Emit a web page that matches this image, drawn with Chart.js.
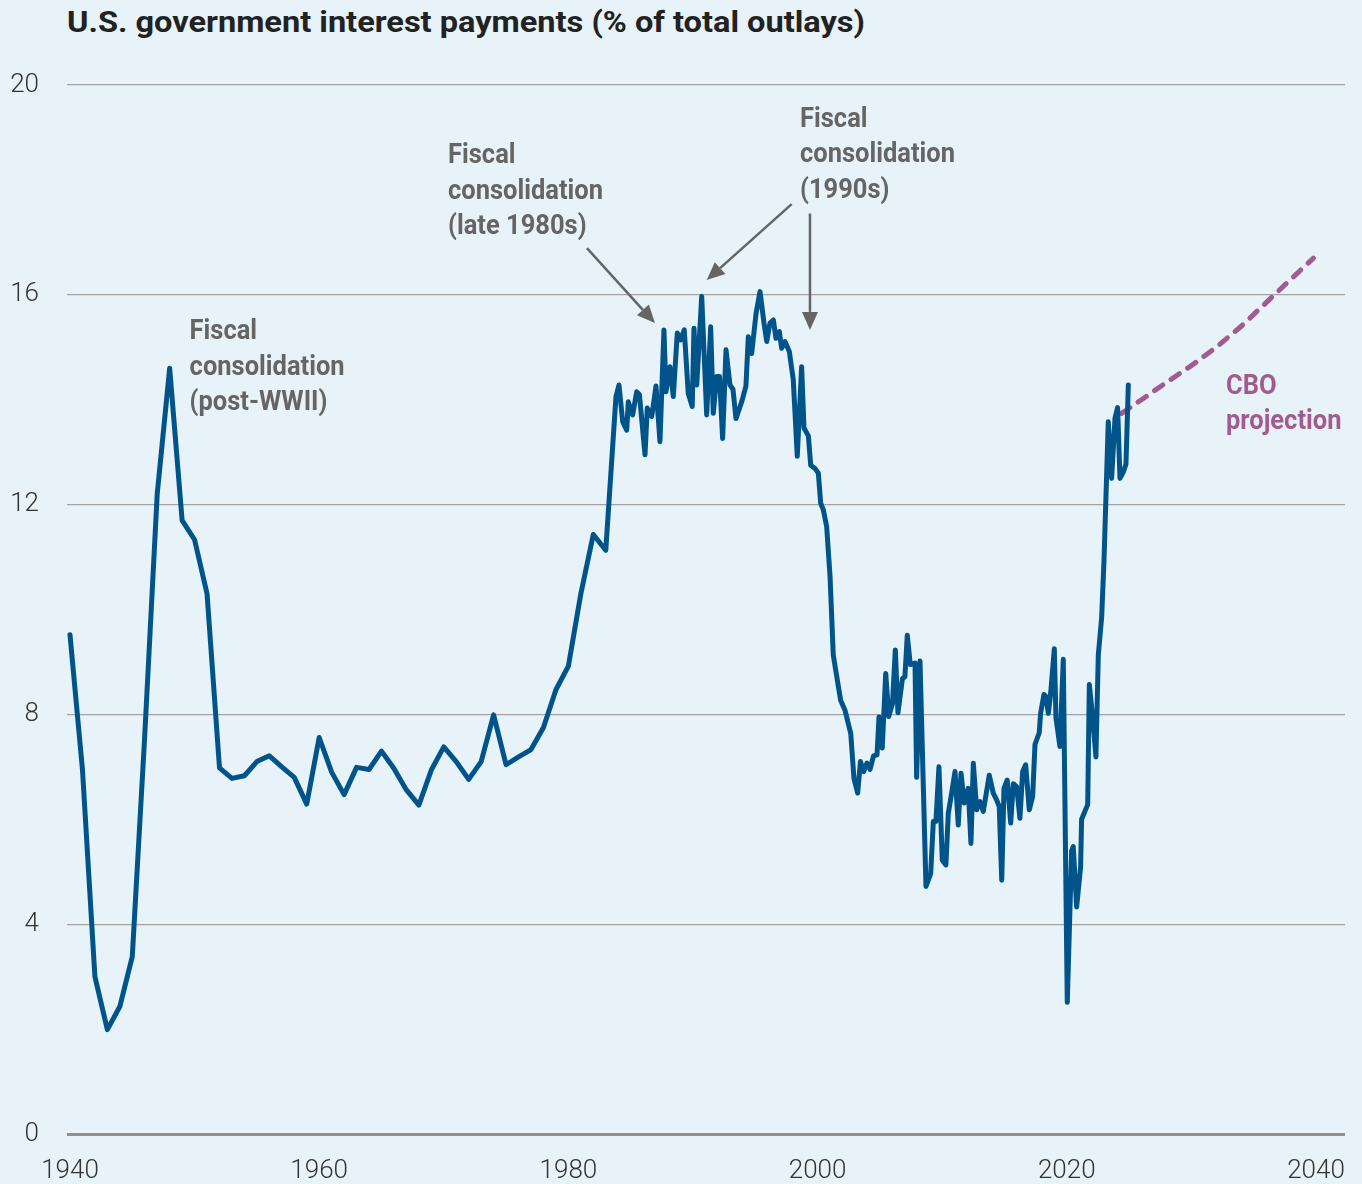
<!DOCTYPE html>
<html>
<head>
<meta charset="utf-8">
<script src="https://cdn.jsdelivr.net/npm/chart.js@4.4.1/dist/chart.umd.min.js"></script>
<style>
  html, body { margin: 0; padding: 0; background: #e8f2f9; }
  #wrap { position: relative; width: 1362px; height: 1184px; }
  #title {
    position: absolute; left: 67px; top: 4px; margin: 0;
    font: bold 30px Roboto, sans-serif; color: #222;
    white-space: nowrap; transform-origin: left top;
  }
  canvas { position: absolute; left: 0; top: 0; }
</style>
</head>
<body>
<div id="wrap">
  <h1 id="title">U.S. government interest payments (% of total outlays)</h1>
  <canvas id="chart" width="1362" height="1184"></canvas>
</div>
<script>
/* ================== DATA ================== */
const annualYears = [1940, 1941, 1942, 1943, 1944, 1945, 1946, 1947, 1948, 1949,
  1950, 1951, 1952, 1953, 1954, 1955, 1956, 1957, 1958, 1959,
  1960, 1961, 1962, 1963, 1964, 1965, 1966, 1967, 1968, 1969,
  1970, 1971, 1972, 1973, 1974, 1975, 1976, 1977, 1978, 1979,
  1980, 1981, 1982, 1983];
const annualShare = [9.52, 6.95, 3.0, 1.99, 2.43, 3.38, 7.6, 12.2, 14.6, 11.7,
  11.33, 10.3, 6.98, 6.78, 6.83, 7.1, 7.21, 7.0, 6.8, 6.29,
  7.56, 6.9, 6.47, 6.99, 6.95, 7.3, 6.97, 6.56, 6.27, 6.94,
  7.38, 7.1, 6.76, 7.1, 7.99, 7.04, 7.19, 7.33, 7.75, 8.47,
  8.92, 10.3, 11.43, 11.13];

// quarterly readings from 1984 on
const quarterYears = [1983.82, 1984.06, 1984.36, 1984.68, 1984.81, 1985.16, 1985.48, 1985.7, 1986.15, 1986.33,
  1986.69, 1987.03, 1987.35, 1987.67, 1987.83, 1988.15, 1988.42, 1988.74, 1989.01, 1989.3,
  1989.62, 1989.94, 1990.08, 1990.3, 1990.7, 1991.1, 1991.42, 1991.63, 1991.9, 1992.13,
  1992.38, 1992.65, 1992.97, 1993.21, 1993.45, 1993.91, 1994.25, 1994.44, 1994.71, 1995.06,
  1995.38, 1995.7, 1995.92, 1996.18, 1996.45, 1996.66, 1996.93, 1997.12, 1997.38, 1997.73,
  1998.05, 1998.37, 1998.72, 1998.91, 1999.26, 1999.45, 1999.79, 2000.06, 2000.25, 2000.46,
  2000.73, 2001.0, 2001.26, 2001.85, 2002.2, 2002.66, 2002.92, 2003.22, 2003.44, 2003.7,
  2003.96, 2004.21, 2004.49, 2004.77, 2004.93, 2005.19, 2005.47, 2005.71, 2006.01, 2006.24,
  2006.45, 2006.81, 2007.01, 2007.2, 2007.44, 2007.82, 2007.95, 2008.22, 2008.7, 2009.08,
  2009.29, 2009.5, 2009.74, 2010.01, 2010.3, 2010.49, 2010.76, 2011.03, 2011.29, 2011.51,
  2011.77, 2012.09, 2012.31, 2012.5, 2012.77, 2013.03, 2013.3, 2013.78, 2014.1, 2014.37,
  2014.58, 2014.78, 2014.96, 2015.22, 2015.5, 2015.71, 2015.98, 2016.24, 2016.46, 2016.7,
  2016.99, 2017.26, 2017.45, 2017.79, 2017.9, 2018.17, 2018.33, 2018.52, 2018.71, 2019.0,
  2019.13, 2019.45, 2019.72, 2020.04, 2020.39, 2020.52, 2020.79, 2021.11, 2021.19, 2021.68,
  2021.81, 2022.08, 2022.34, 2022.53, 2022.8, 2022.99, 2023.33, 2023.6, 2023.87, 2024.08,
  2024.27, 2024.54, 2024.75, 2024.94];
const quarterShare = [14.06, 14.28, 13.58, 13.42, 13.96, 13.71, 14.15, 14.1, 12.95, 13.84,
  13.68, 14.26, 13.2, 15.33, 14.15, 14.63, 14.06, 15.27, 15.14, 15.33,
  14.12, 13.87, 15.36, 14.28, 15.97, 13.71, 15.39, 13.74, 14.44, 14.44,
  13.26, 14.95, 14.28, 14.2, 13.64, 13.96, 14.26, 15.2, 14.88, 15.64,
  16.06, 15.46, 15.11, 15.46, 15.52, 15.17, 15.3, 14.98, 15.11, 14.92,
  14.38, 12.92, 14.63, 13.46, 13.31, 12.75, 12.69, 12.6, 12.03, 11.9,
  11.58, 10.63, 9.13, 8.27, 8.08, 7.64, 6.78, 6.5, 7.1, 6.91,
  7.07, 6.95, 7.21, 7.23, 7.95, 7.36, 8.78, 7.96, 8.2, 9.23,
  8.03, 8.68, 8.72, 9.51, 8.95, 8.98, 6.8, 9.02, 4.72, 4.97,
  5.96, 5.96, 7.0, 5.22, 5.13, 6.11, 6.5, 6.91, 5.89, 6.88,
  6.31, 6.59, 5.54, 7.07, 6.18, 6.34, 6.15, 6.84, 6.5, 6.37,
  6.24, 4.84, 6.59, 6.75, 5.93, 6.68, 6.62, 6.02, 6.91, 7.04,
  6.18, 6.43, 7.43, 7.65, 8.02, 8.38, 8.34, 8.02, 8.41, 9.25,
  7.94, 7.39, 9.05, 2.51, 5.4, 5.48, 4.33, 5.09, 6.0, 6.28,
  8.57, 7.94, 7.19, 9.13, 9.85, 10.95, 13.58, 12.5, 13.65, 13.85,
  12.5, 12.62, 12.77, 14.28];

const cboYears = [2024.4, 2026, 2028, 2030, 2032, 2034, 2036, 2038, 2039.8];
const cboShare = [13.74, 14.0, 14.33, 14.65, 15.0, 15.4, 15.85, 16.3, 16.7];

const xTicks = [1940, 1960, 1980, 2000, 2020, 2040];
const yTicks = [0, 4, 8, 12, 16, 20];

// annotation texts, anchored at (year, value) of the first line's baseline
const notes = [
  { lines: ["Fiscal", "consolidation", "(post-WWII)"], year: 1949.6, value: 15.15, purple: false },
  { lines: ["Fiscal", "consolidation", "(late 1980s)"], year: 1970.34, value: 18.51, purple: false },
  { lines: ["Fiscal", "consolidation", "(1990s)"], year: 1998.59, value: 19.2, purple: false },
  { lines: ["CBO", "projection"], year: 2032.78, value: 14.11, purple: true }
];
const arrows = [
  { from: [1981.49, 16.89], to: [1986.95, 15.46] },
  { from: [1997.92, 17.73], to: [1991.1, 16.28] },
  { from: [1999.39, 17.55], to: [1999.39, 15.33] }
];

/* ================== STYLE ================== */
const BLUE = "#00548a";
const PURPLE = "#a25b91";
const GRAY = "#656565";
const NOTE_FONT = "bold 28px Roboto, sans-serif";
const NOTE_LINE = 35.5;

function toPoints(xs, ys) {
  return xs.map((x, i) => ({ x, y: ys[i] }));
}

/* ================== HELPERS ================== */
function squeeze(ctx, font, sample, target) {
  ctx.save();
  ctx.font = font;
  const w = ctx.measureText(sample).width;
  ctx.restore();
  return w ? target / w : 1;
}

function drawArrow(ctx, x1, y1, x2, y2) {
  const ang = Math.atan2(y2 - y1, x2 - x1);
  const len = 18, half = 8;
  const bx = x2 - len * Math.cos(ang), by = y2 - len * Math.sin(ang);
  ctx.beginPath();
  ctx.moveTo(x1, y1);
  ctx.lineTo(bx, by);
  ctx.stroke();
  ctx.beginPath();
  ctx.moveTo(x2, y2);
  ctx.lineTo(bx + half * Math.sin(ang), by - half * Math.cos(ang));
  ctx.lineTo(bx - half * Math.sin(ang), by + half * Math.cos(ang));
  ctx.closePath();
  ctx.fill();
}

const notesPlugin = {
  id: "notes",
  afterDatasetsDraw(chart) {
    const { ctx, scales } = chart;
    const sx = squeeze(ctx, NOTE_FONT, "consolidation", 155);

    ctx.save();
    ctx.strokeStyle = GRAY;
    ctx.fillStyle = GRAY;
    ctx.lineWidth = 2.5;
    arrows.forEach(a => {
      drawArrow(ctx,
        scales.x.getPixelForValue(a.from[0]), scales.y.getPixelForValue(a.from[1]),
        scales.x.getPixelForValue(a.to[0]), scales.y.getPixelForValue(a.to[1]));
    });

    ctx.font = NOTE_FONT;
    ctx.textBaseline = "alphabetic";
    ctx.textAlign = "left";
    notes.forEach(n => {
      const px = scales.x.getPixelForValue(n.year);
      const py = scales.y.getPixelForValue(n.value);
      ctx.fillStyle = n.purple ? PURPLE : GRAY;
      n.lines.forEach((t, i) => {
        ctx.save();
        ctx.translate(px, py + i * NOTE_LINE);
        ctx.scale(sx, 1);
        ctx.fillText(t, 0, 0);
        ctx.restore();
      });
    });
    ctx.restore();
  }
};

/* ================== CHART ================== */
const titleEl = document.getElementById("title");
const probe = document.createElement("canvas").getContext("2d");
titleEl.style.transform = `scaleX(${squeeze(probe, "bold 30px Roboto, sans-serif", titleEl.textContent, 798)})`;

new Chart(document.getElementById("chart"), {
  type: "line",
  data: {
    datasets: [
      {
        data: toPoints(annualYears.concat(quarterYears), annualShare.concat(quarterShare)),
        borderColor: BLUE,
        borderWidth: 5,
        borderJoinStyle: "round",
        borderCapStyle: "round",
        pointRadius: 0,
        tension: 0
      },
      {
        data: toPoints(cboYears, cboShare),
        borderColor: PURPLE,
        borderWidth: 5,
        borderDash: [10, 10],
        borderCapStyle: "round",
        pointRadius: 0,
        tension: 0
      }
    ]
  },
  options: {
    responsive: false,
    animation: false,
    devicePixelRatio: 1,
    layout: { padding: { top: 85, right: 17, left: 0, bottom: 0 } },
    plugins: {
      legend: { display: false },
      tooltip: { enabled: false }
    },
    scales: {
      x: {
        type: "linear",
        min: 1939.76,
        max: 2042.33,
        afterBuildTicks: s => { s.ticks = xTicks.map(v => ({ value: v })); },
        afterFit: s => { s.height = 50; s.paddingLeft = 0; s.paddingRight = 0; },
        grid: { display: false, drawTicks: false },
        border: { display: false },
        ticks: {
          padding: 22,
          color: "#333",
          font: { family: "Roboto", size: 26, weight: "300" },
          callback: v => String(v)
        }
      },
      y: {
        min: 0,
        max: 20,
        afterBuildTicks: s => { s.ticks = yTicks.map(v => ({ value: v })); },
        afterFit: s => { s.width = 67; s.paddingTop = 0; s.paddingBottom = 0; },
        border: { display: false },
        grid: {
          drawTicks: false,
          color: c => (c.tick.value === 0 ? "#8f8f8f" : "#a3a3a3"),
          lineWidth: c => (c.tick.value === 0 ? 3 : 1.3)
        },
        ticks: {
          padding: 28,
          color: "#333",
          font: { family: "Roboto", size: 26, weight: "300" }
        }
      }
    }
  },
  plugins: [notesPlugin]
});
</script>
</body>
</html>
